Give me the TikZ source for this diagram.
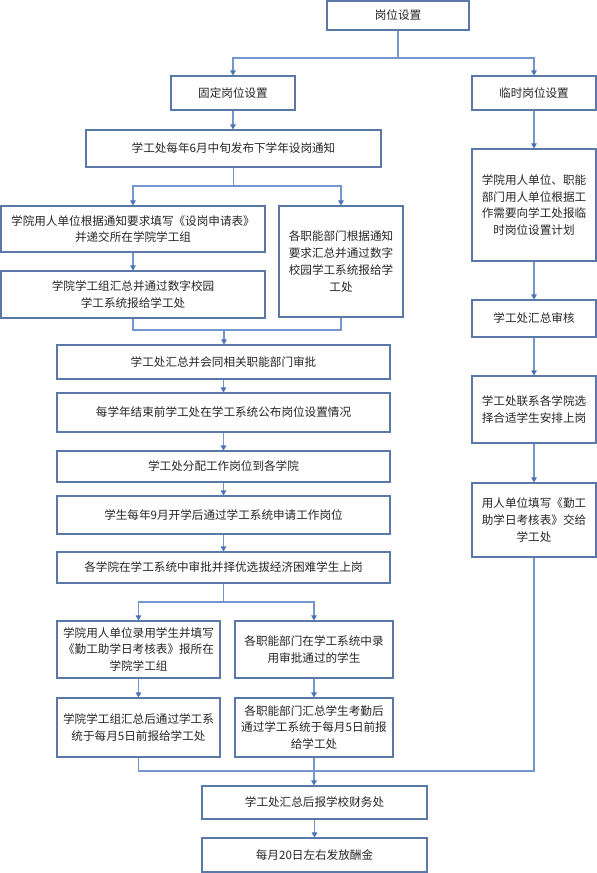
\documentclass[tikz,border=0pt]{standalone}
\usepackage{fontspec}
\setmainfont{Noto Sans CJK SC}
\usetikzlibrary{arrows.meta}
\definecolor{boxc}{HTML}{5B79A8}
\definecolor{linec}{HTML}{7596CC}
\definecolor{tipc}{HTML}{4A72B8}
\definecolor{txtc}{HTML}{262626}
\tikzset{
  box/.style={draw=boxc, line width=1.1pt, fill=white, align=center, inner sep=0pt,
    font=\fontsize{11.6}{16.7}\selectfont, text=txtc},
  conn/.style={draw=linec, line width=1.1pt},
  arr/.style={conn, -{Triangle[length=5pt,width=5.5pt,color=tipc]}}
}
\begin{document}
\begin{tikzpicture}[x=1pt,y=-1pt]
\useasboundingbox (0,0) rectangle (597,873);
% left / top column
\node[box, minimum width=142pt, minimum height=29pt] (n1) at (398,15.5) {岗位设置};
\node[box, minimum width=124pt, minimum height=34pt] (fixed) at (233,93) {固定岗位设置};
\node[box, minimum width=124pt, minimum height=34pt] (temp) at (534,93) {临时岗位设置};
\node[box, minimum width=295pt, minimum height=37pt] (notice) at (233.5,148.5) {学工处每年6月中旬发布下学年设岗通知};
\node[box, minimum width=264pt, minimum height=46pt] (lb1) at (133,229) {学院用人单位根据通知要求填写《设岗申请表》\\并递交所在学院学工组};
\node[box, minimum width=124pt, minimum height=111pt] (rb) at (341,261.5) {各职能部门根据通知\\要求汇总并通过数字\\校园学工系统报给学\\工处};
\node[box, minimum width=264pt, minimum height=47pt] (lb2) at (133,294.5) {学院学工组汇总并通过数字校园\\学工系统报给学工处};
\node[box, minimum width=333pt, minimum height=34pt] (m1) at (223.5,362) {学工处汇总并会同相关职能部门审批};
\node[box, minimum width=333pt, minimum height=39pt] (m2) at (223.5,412.5) {每学年结束前学工处在学工系统公布岗位设置情况};
\node[box, minimum width=333pt, minimum height=31pt] (m3) at (223.5,466.5) {学工处分配工作岗位到各学院};
\node[box, minimum width=333pt, minimum height=38pt] (m4) at (223.5,515) {学生每年9月开学后通过学工系统申请工作岗位};
\node[box, minimum width=333pt, minimum height=31pt] (m5) at (223.5,567.5) {各学院在学工系统中审批并择优选拔经济困难学生上岗};
\node[box, minimum width=163pt, minimum height=57pt] (ll1) at (138.5,649.5) {学院用人单位录用学生并填写\\《勤工助学日考核表》报所在\\学院学工组};
\node[box, minimum width=158pt, minimum height=57pt] (rl1) at (314,649.5) {各职能部门在学工系统中录\\用审批通过的学生};
\node[box, minimum width=163pt, minimum height=59pt] (ll2) at (138.5,727.5) {学院学工组汇总后通过学工系\\统于每月5日前报给学工处};
\node[box, minimum width=158pt, minimum height=59pt] (rl2) at (314,727.5) {各职能部门汇总学生考勤后\\通过学工系统于每月5日前报\\给学工处};
\node[box, minimum width=225pt, minimum height=33pt] (f1) at (314.5,802.5) {学工处汇总后报学校财务处};
\node[box, minimum width=225pt, minimum height=34pt] (f2) at (314.5,855) {每月20日左右发放酬金};
% right column
\node[box, minimum width=124pt, minimum height=112pt] (t2) at (534,205) {学院用人单位、职能\\部门用人单位根据工\\作需要向学工处报临\\时岗位设置计划};
\node[box, minimum width=124pt, minimum height=37pt] (t3) at (534,318.5) {学工处汇总审核};
\node[box, minimum width=124pt, minimum height=67pt] (t4) at (534,409.5) {学工处联系各学院选\\择合适学生安排上岗};
\node[box, minimum width=124pt, minimum height=74pt] (t5) at (534,520) {用人单位填写《勤工\\助学日考核表》交给\\学工处};
% connectors
\coordinate (j1) at (398,58);
\draw[conn] (n1.south) -- (j1);
\draw[arr] (j1) -| (fixed.north);
\draw[arr] (j1) -| (temp.north);
\draw[arr] (fixed.south) -- (fixed.south |- notice.north);
\coordinate (j2) at (233.5,186);
\draw[conn] (notice.south) -- (j2);
\draw[arr] (j2) -| (lb1.north);
\draw[arr] (j2) -| (rb.north);
\draw[arr] (lb1.south) -- (lb2.north);
\coordinate (j3) at (224,330);
\draw[conn] (lb2.south) |- (j3) -| (rb.south);
\draw[arr] (j3) -- (j3 |- m1.north);
\draw[arr] (m1.south) -- (m2.north);
\draw[arr] (m2.south) -- (m3.north);
\draw[arr] (m3.south) -- (m4.north);
\draw[arr] (m4.south) -- (m5.north);
\coordinate (j4) at (223.5,602);
\draw[conn] (m5.south) -- (j4);
\draw[arr] (j4) -| (ll1.north);
\draw[arr] (j4) -| (rl1.north);
\draw[arr] (ll1.south) -- (ll2.north);
\draw[arr] (rl1.south) -- (rl2.north);
\coordinate (j5) at (314,771);
\draw[conn] (ll2.south) |- (j5);
\draw[conn] (rl2.south) -- (j5);
\draw[conn] (t5.south) |- (j5);
\draw[arr] (j5) -- (j5 |- f1.north);
\draw[arr] (f1.south) -- (f2.north);
\draw[arr] (temp.south) -- (t2.north);
\draw[arr] (t2.south) -- (t3.north);
\draw[arr] (t3.south) -- (t4.north);
\draw[arr] (t4.south) -- (t5.north);
\end{tikzpicture}
\end{document}
